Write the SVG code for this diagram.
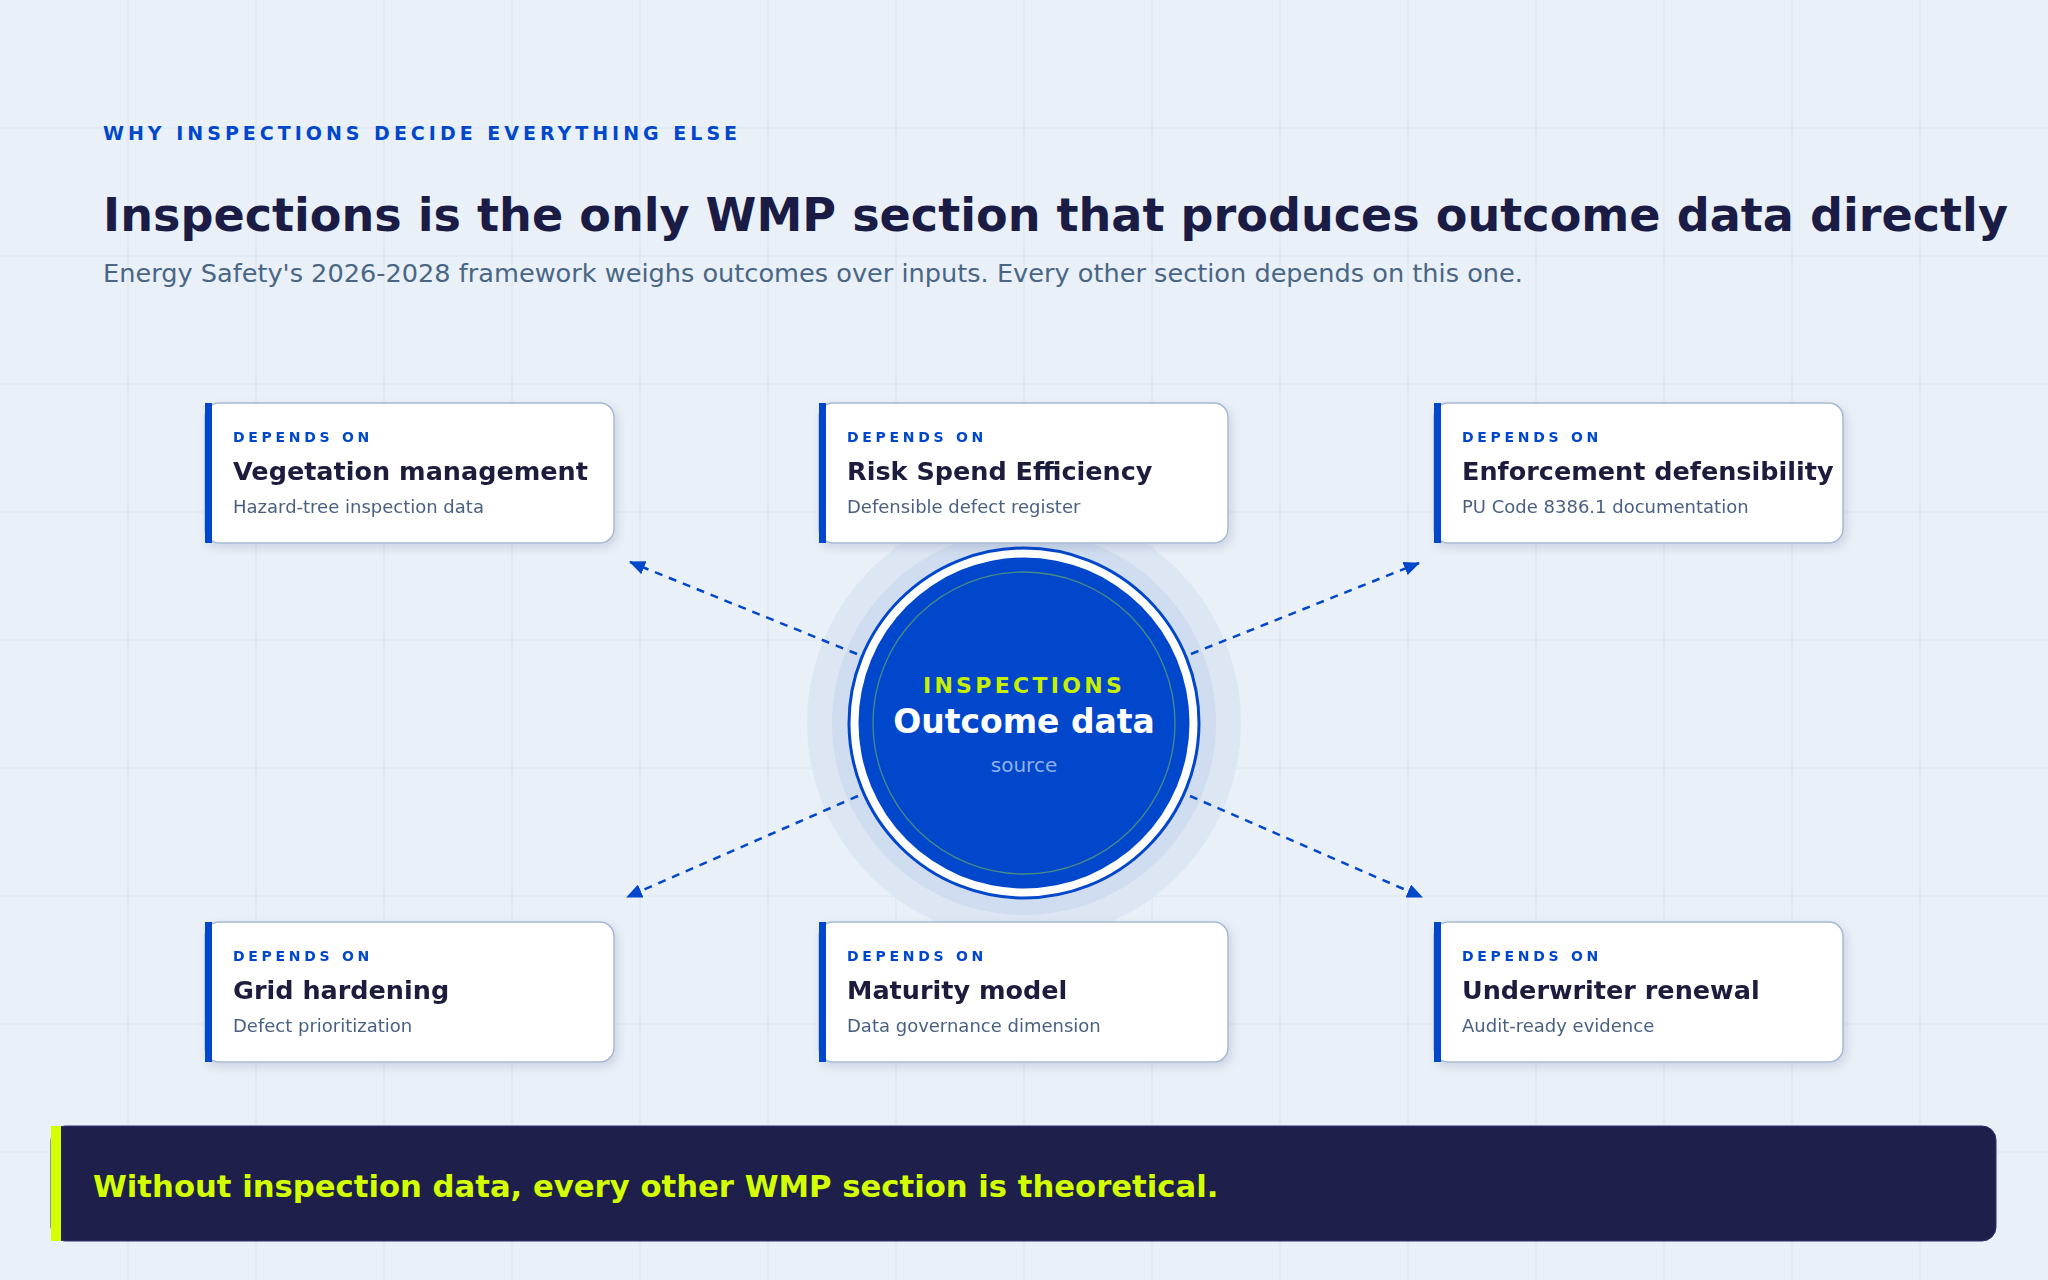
<svg xmlns="http://www.w3.org/2000/svg" width="2048" height="1280" viewBox="0 0 2048 1280">
  <defs>
    <style>
      .grid line { stroke: #dce5ef; stroke-width: 1.2; }
      .eyebrow { font-family: "DejaVu Sans", Verdana, sans-serif; font-weight: bold; font-size: 19px; letter-spacing: 4px; fill: #0047cc; }
      .title { font-family: "DejaVu Sans", Verdana, sans-serif; font-weight: bold; font-size: 46.1px; fill: #1b1c45; }
      .subtitle { font-family: "DejaVu Sans", Verdana, sans-serif; font-size: 25.6px; fill: #4a6685; }
      .card rect.bg { fill: #ffffff; stroke: #a6b9d2; stroke-width: 1.5; }
      .card rect.bar { fill: #0047cc; }
      .kicker { font-family: "DejaVu Sans", Verdana, sans-serif; font-weight: bold; font-size: 14px; letter-spacing: 3.7px; fill: #0047cc; }
      .ctitle { font-family: "DejaVu Sans", Verdana, sans-serif; font-weight: bold; font-size: 25.5px; fill: #1a1a3e; }
      .csub { font-family: "DejaVu Sans", Verdana, sans-serif; font-size: 18px; fill: #4a6080; }
      .conn { fill: none; stroke: #0047cc; stroke-width: 2.5; stroke-dasharray: 8 7; marker-end: url(#arrow); }
      .banner-text { font-family: "DejaVu Sans", Verdana, sans-serif; font-weight: bold; font-size: 30.7px; fill: #d4ff00; }
    </style>
    <filter id="shadow" x="-10%" y="-20%" width="130%" height="150%">
      <feDropShadow dx="3" dy="4" stdDeviation="5" flood-color="#1b1c45" flood-opacity="0.12"/>
    </filter>
    <marker id="arrow" viewBox="0 0 16 14" refX="15" refY="7" markerWidth="16" markerHeight="14" markerUnits="userSpaceOnUse" orient="auto">
      <path d="M0 0 L16 7 L0 14 Z" fill="#0047cc"/>
    </marker>
  </defs>

  <rect x="0" y="0" width="2048" height="1280" fill="#e9f0f8"/>
  <g class="grid">
    <line x1="128" y1="0" x2="128" y2="1280"/>
    <line x1="256" y1="0" x2="256" y2="1280"/>
    <line x1="384" y1="0" x2="384" y2="1280"/>
    <line x1="512" y1="0" x2="512" y2="1280"/>
    <line x1="640" y1="0" x2="640" y2="1280"/>
    <line x1="768" y1="0" x2="768" y2="1280"/>
    <line x1="896" y1="0" x2="896" y2="1280"/>
    <line x1="1024" y1="0" x2="1024" y2="1280"/>
    <line x1="1152" y1="0" x2="1152" y2="1280"/>
    <line x1="1280" y1="0" x2="1280" y2="1280"/>
    <line x1="1408" y1="0" x2="1408" y2="1280"/>
    <line x1="1536" y1="0" x2="1536" y2="1280"/>
    <line x1="1664" y1="0" x2="1664" y2="1280"/>
    <line x1="1792" y1="0" x2="1792" y2="1280"/>
    <line x1="1920" y1="0" x2="1920" y2="1280"/>
    <line x1="0" y1="128" x2="2048" y2="128"/>
    <line x1="0" y1="256" x2="2048" y2="256"/>
    <line x1="0" y1="384" x2="2048" y2="384"/>
    <line x1="0" y1="512" x2="2048" y2="512"/>
    <line x1="0" y1="640" x2="2048" y2="640"/>
    <line x1="0" y1="768" x2="2048" y2="768"/>
    <line x1="0" y1="896" x2="2048" y2="896"/>
    <line x1="0" y1="1024" x2="2048" y2="1024"/>
    <line x1="0" y1="1152" x2="2048" y2="1152"/>
  </g>

  <g id="header">
    <text class="eyebrow" x="103" y="140">WHY INSPECTIONS DECIDE EVERYTHING ELSE</text>
    <text class="title" x="103" y="231">Inspections is the only WMP section that produces outcome data directly</text>
    <text class="subtitle" x="103" y="282">Energy Safety's 2026-2028 framework weighs outcomes over inputs. Every other section depends on this one.</text>
  </g>

  <g id="hub">
    <circle cx="1024" cy="723" r="217" fill="#dde7f4"/>
    <circle cx="1024" cy="723" r="192" fill="#d0ddf0"/>
    <circle cx="1024" cy="723" r="175" fill="#ffffff" stroke="#0047cc" stroke-width="3"/>
    <circle cx="1024" cy="723" r="165.5" fill="#0047cc"/>
    <circle cx="1024" cy="723" r="151" fill="none" stroke="#4a8a86" stroke-width="1.3"/>
    <text x="1024" y="693" text-anchor="middle" font-family="DejaVu Sans, Verdana, sans-serif" font-weight="bold" font-size="22" letter-spacing="3.3" fill="#c8f000">INSPECTIONS</text>
    <text x="1024" y="733" text-anchor="middle" font-family="DejaVu Sans, Verdana, sans-serif" font-weight="bold" font-size="33" fill="#ffffff">Outcome data</text>
    <text x="1024" y="772" text-anchor="middle" font-family="DejaVu Sans, Verdana, sans-serif" font-size="20" fill="#8fb0ea">source</text>
  </g>

  <g id="connectors">
    <path class="conn" d="M857 654 L630 562"/>
    <path class="conn" d="M1191 654 L1419 563"/>
    <path class="conn" d="M858 796 L627 897"/>
    <path class="conn" d="M1190 796 L1422 897"/>
  </g>

  <g id="card-vegetation" class="card" filter="url(#shadow)">
    <rect class="bg" x="205" y="403" width="409" height="140" rx="14"/>
    <rect class="bar" x="205" y="403" width="7" height="140"/>
    <text class="kicker" x="233" y="442">DEPENDS ON</text>
    <text class="ctitle" x="233" y="480">Vegetation management</text>
    <text class="csub" x="233" y="513">Hazard-tree inspection data</text>
  </g>
  <g id="card-rse" class="card" filter="url(#shadow)">
    <rect class="bg" x="819" y="403" width="409" height="140" rx="14"/>
    <rect class="bar" x="819" y="403" width="7" height="140"/>
    <text class="kicker" x="847" y="442">DEPENDS ON</text>
    <text class="ctitle" x="847" y="480">Risk Spend Efficiency</text>
    <text class="csub" x="847" y="513">Defensible defect register</text>
  </g>
  <g id="card-enforcement" class="card" filter="url(#shadow)">
    <rect class="bg" x="1434" y="403" width="409" height="140" rx="14"/>
    <rect class="bar" x="1434" y="403" width="7" height="140"/>
    <text class="kicker" x="1462" y="442">DEPENDS ON</text>
    <text class="ctitle" x="1462" y="480">Enforcement defensibility</text>
    <text class="csub" x="1462" y="513">PU Code 8386.1 documentation</text>
  </g>
  <g id="card-grid" class="card" filter="url(#shadow)">
    <rect class="bg" x="205" y="922" width="409" height="140" rx="14"/>
    <rect class="bar" x="205" y="922" width="7" height="140"/>
    <text class="kicker" x="233" y="961">DEPENDS ON</text>
    <text class="ctitle" x="233" y="999">Grid hardening</text>
    <text class="csub" x="233" y="1032">Defect prioritization</text>
  </g>
  <g id="card-maturity" class="card" filter="url(#shadow)">
    <rect class="bg" x="819" y="922" width="409" height="140" rx="14"/>
    <rect class="bar" x="819" y="922" width="7" height="140"/>
    <text class="kicker" x="847" y="961">DEPENDS ON</text>
    <text class="ctitle" x="847" y="999">Maturity model</text>
    <text class="csub" x="847" y="1032">Data governance dimension</text>
  </g>
  <g id="card-underwriter" class="card" filter="url(#shadow)">
    <rect class="bg" x="1434" y="922" width="409" height="140" rx="14"/>
    <rect class="bar" x="1434" y="922" width="7" height="140"/>
    <text class="kicker" x="1462" y="961">DEPENDS ON</text>
    <text class="ctitle" x="1462" y="999">Underwriter renewal</text>
    <text class="csub" x="1462" y="1032">Audit-ready evidence</text>
  </g>

  <g id="banner">
    <rect x="51" y="1126" width="1945" height="115" rx="14" fill="#1e1f4a" stroke="#2e3270" stroke-width="1"/>
    <rect x="51" y="1126" width="10" height="115" fill="#d4ff00"/>
    <text class="banner-text" x="93" y="1197">Without inspection data, every other WMP section is theoretical.</text>
  </g>
</svg>
